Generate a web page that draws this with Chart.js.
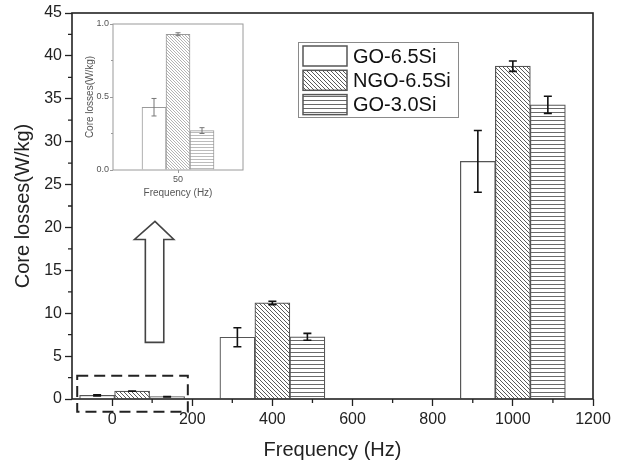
<!DOCTYPE html>
<html><head><meta charset="utf-8">
<script src="https://cdn.jsdelivr.net/npm/chart.js@4.4.1/dist/chart.umd.min.js"></script>
<style>
html,body{margin:0;padding:0;background:#fff;}
#wrap{position:relative;width:622px;height:464px;overflow:hidden;}
#main{position:absolute;left:0;top:0;}
#inset{position:absolute;left:75px;top:15px;}
</style></head><body>
<div id="wrap"><canvas id="main" width="622" height="464"></canvas><canvas id="inset" width="175" height="195"></canvas></div>
<script>
// ---- data ----
const frequencies = [50, 400, 1000];
const seriesNames = ['GO-6.5Si', 'NGO-6.5Si', 'GO-3.0Si'];
const go65 = [0.43, 7.2, 27.7];
const go65Err = [0.06, 1.1, 3.6];
const ngo65 = [0.93, 11.2, 38.8];
const ngo65Err = [0.01, 0.2, 0.6];
const go30 = [0.27, 7.25, 34.3];
const go30Err = [0.02, 0.4, 1.0];
const xTicks = [0, 200, 400, 600, 800, 1000, 1200];
const yTicks = [0, 5, 10, 15, 20, 25, 30, 35, 40, 45];
const insetYTicks = [0, 0.5, 1.0];
const insetYTickLabels = ['0.0', '0.5', '1.0'];
const xTitle = 'Frequency (Hz)';
const yTitle = 'Core losses(W/kg)';

const FONT = '"Liberation Sans", Arial, Helvetica, sans-serif';
Chart.defaults.font.family = FONT;

const vals = [go65, ngo65, go30];
const errs = [go65Err, ngo65Err, go30Err];

function pattern(ctx, kind, color, size, lw) {
  const c = document.createElement('canvas');
  c.width = size; c.height = size;
  const g = c.getContext('2d');
  g.fillStyle = '#fff'; g.fillRect(0, 0, size, size);
  g.strokeStyle = color; g.lineWidth = lw;
  g.beginPath();
  if (kind === 'diag') {
    g.moveTo(-1, -1); g.lineTo(size + 1, size + 1);
    g.moveTo(-1, size - 1); g.lineTo(1, size + 1);
    g.moveTo(size - 1, -1); g.lineTo(size + 1, 1);
  } else {
    g.moveTo(0, 0.5); g.lineTo(size, 0.5);
  }
  g.stroke();
  return ctx.createPattern(c, 'repeat');
}

function midpoints(arr) {
  const out = [];
  for (let i = 0; i < arr.length - 1; i++) out.push((arr[i] + arr[i + 1]) / 2);
  return out;
}

const errorBars = {
  id: 'errorBars',
  afterDatasetsDraw(chart, args, opts) {
    const ctx = chart.ctx, ys = chart.scales.y;
    ctx.save();
    ctx.strokeStyle = opts.color; ctx.lineWidth = opts.width;
    chart.data.datasets.forEach((ds, k) => {
      const meta = chart.getDatasetMeta(k);
      meta.data.forEach((bar, i) => {
        const d = ds.data[i];
        const v = (typeof d === 'object') ? d.y : d;
        const e = ds.errors[i];
        const t = ys.getPixelForValue(v + e), b = ys.getPixelForValue(v - e);
        const x = bar.x, c = opts.cap;
        ctx.beginPath();
        ctx.moveTo(x, t); ctx.lineTo(x, b);
        ctx.moveTo(x - c, t); ctx.lineTo(x + c, t);
        ctx.moveTo(x - c, b); ctx.lineTo(x + c, b);
        ctx.stroke();
      });
    });
    ctx.restore();
  }
};

const frame = {
  id: 'frame',
  afterDraw(chart, args, opts) {
    const ctx = chart.ctx, a = chart.chartArea;
    const xs = chart.scales.x, ys = chart.scales.y;
    ctx.save();
    ctx.strokeStyle = opts.color; ctx.lineWidth = opts.width;
    ctx.strokeRect(a.left, a.top, a.right - a.left, a.bottom - a.top);
    ctx.lineWidth = opts.tickWidth;
    ctx.beginPath();
    (opts.xMinor || []).forEach(v => {
      const px = xs.getPixelForValue(v);
      ctx.moveTo(px, a.bottom); ctx.lineTo(px, a.bottom + opts.minorLen);
    });
    (opts.yMinor || []).forEach(v => {
      const py = ys.getPixelForValue(v);
      ctx.moveTo(a.left, py); ctx.lineTo(a.left - opts.minorLen, py);
    });
    ctx.stroke();
    ctx.restore();
  }
};

const decorations = {
  id: 'decorations',
  afterDraw(chart, args, opts) {
    const ctx = chart.ctx, xs = chart.scales.x, ys = chart.scales.y;
    ctx.save();
    const r = opts.box;
    const x1 = xs.getPixelForValue(r.x0), x2 = xs.getPixelForValue(r.x1);
    const y1 = ys.getPixelForValue(r.y1), y2 = ys.getPixelForValue(r.y0);
    ctx.setLineDash([11, 6]);
    ctx.lineWidth = 2; ctx.strokeStyle = '#222';
    ctx.strokeRect(x1, y1, x2 - x1, y2 - y1);
    ctx.setLineDash([]);
    const A = opts.arrow;
    const P = (x, y) => [xs.getPixelForValue(x), ys.getPixelForValue(y)];
    const pts = [
      P(A.tipX, A.tipY), P(A.headR, A.headY), P(A.shaftR, A.headY), P(A.shaftR, A.bottom),
      P(A.shaftL, A.bottom), P(A.shaftL, A.headY), P(A.headL, A.headY)
    ];
    ctx.beginPath();
    pts.forEach((p, i) => i ? ctx.lineTo(p[0], p[1]) : ctx.moveTo(p[0], p[1]));
    ctx.closePath();
    ctx.lineWidth = 1.6; ctx.strokeStyle = '#444'; ctx.lineJoin = 'miter';
    ctx.stroke();
    const L = opts.legend;
    ctx.lineWidth = 1; ctx.strokeStyle = '#8a8a8a';
    ctx.strokeRect(L.x + 0.5, L.y + 0.5, L.w, L.h);
    ctx.font = '20px ' + FONT; ctx.textBaseline = 'middle';
    chart.data.datasets.forEach((ds, k) => {
      const sy = L.y + L.rowTop + k * L.rowStep;
      ctx.fillStyle = ds.backgroundColor;
      ctx.fillRect(L.x + L.swX, sy, L.swW, L.swH);
      ctx.lineWidth = 1.5; ctx.strokeStyle = '#555';
      ctx.strokeRect(L.x + L.swX, sy, L.swW, L.swH);
      ctx.fillStyle = '#111';
      ctx.fillText(ds.label, L.x + L.textX, sy + L.swH / 2 + 1);
    });
    ctx.restore();
  }
};

// ---- main chart ----
const mainCtx = document.getElementById('main').getContext('2d');
const mainFills = ['#ffffff', pattern(mainCtx, 'diag', '#5a5a5a', 4, 1), pattern(mainCtx, 'horiz', '#6a6a6a', 4, 1)];

new Chart(mainCtx, {
  type: 'bar',
  data: {
    datasets: seriesNames.map((name, k) => ({
      label: name,
      data: frequencies.map((f, i) => ({ x: f, y: vals[k][i] })),
      errors: errs[k],
      backgroundColor: mainFills[k],
      borderColor: '#555',
      borderWidth: 1.2,
      barThickness: 35
    }))
  },
  options: {
    responsive: false, animation: false, devicePixelRatio: 1,
    layout: { padding: { top: 13, right: 29, left: 0, bottom: 0 } },
    plugins: {
      legend: { display: false }, tooltip: { enabled: false },
      errorBars: { color: '#111', width: 1.6, cap: 4 },
      frame: { color: '#222', width: 1.6, tickWidth: 1.3, minorLen: 4, xMinor: midpoints(xTicks), yMinor: midpoints(yTicks) },
      decorations: {
        box: { x0: -87, x1: 189, y0: -1.5, y1: 2.7 },
        arrow: { tipX: 107, tipY: 20.7, headY: 18.6, headL: 56, headR: 154, shaftL: 83, shaftR: 129, bottom: 6.6 },
        legend: { x: 298, y: 42, w: 160, h: 75, swX: 5, swW: 44, swH: 20, rowTop: 4, rowStep: 24.3, textX: 55 }
      }
    },
    scales: {
      x: {
        type: 'linear', min: -100, max: 1200, offset: false,
        afterBuildTicks(s) { s.ticks = xTicks.map(v => ({ value: v })); },
        afterFit(s) { s.height = 65; },
        grid: { display: true, drawOnChartArea: false, offset: false, tickLength: 7, tickWidth: 1.3, tickColor: '#222' },
        border: { display: false },
        ticks: { autoSkip: false, maxRotation: 0, color: '#222', font: { size: 16 }, padding: 4, callback: v => String(v) },
        title: { display: true, text: xTitle, color: '#222', font: { size: 20 }, padding: { top: 0, bottom: 2 } }
      },
      y: {
        min: 0, max: 45,
        afterBuildTicks(s) { s.ticks = yTicks.map(v => ({ value: v })); },
        afterFit(s) { s.width = 72; },
        grid: { display: true, drawOnChartArea: false, tickLength: 7, tickWidth: 1.3, tickColor: '#222' },
        border: { display: false },
        ticks: { color: '#222', font: { size: 16 }, padding: 3, callback: v => String(v) },
        title: { display: true, text: yTitle, color: '#222', font: { size: 20 }, padding: { top: 11, bottom: 0 } }
      }
    }
  },
  plugins: [errorBars, frame, decorations]
});

// ---- inset chart ----
const insetCtx = document.getElementById('inset').getContext('2d');
const insetFills = ['#ffffff', pattern(insetCtx, 'diag', '#a0a0a0', 3, 0.8), pattern(insetCtx, 'horiz', '#ababab', 3, 0.8)];

new Chart(insetCtx, {
  type: 'bar',
  data: {
    labels: [String(frequencies[0])],
    datasets: seriesNames.map((name, k) => ({
      label: name,
      data: [vals[k][0]],
      errors: [errs[k][0]],
      backgroundColor: insetFills[k],
      borderColor: '#9a9a9a',
      borderWidth: 1,
      barThickness: 24
    }))
  },
  options: {
    responsive: false, animation: false, devicePixelRatio: 1,
    layout: { padding: { top: 9, right: 7, left: 0, bottom: 0 } },
    plugins: {
      legend: { display: false }, tooltip: { enabled: false },
      errorBars: { color: '#777', width: 1, cap: 2.5 },
      frame: { color: '#9a9a9a', width: 1, tickWidth: 1, minorLen: 2, xMinor: [], yMinor: midpoints(insetYTicks) }
    },
    scales: {
      x: {
        type: 'category',
        afterFit(s) { s.height = 40; },
        grid: { display: true, drawOnChartArea: false, offset: false, tickLength: 3, tickColor: '#9a9a9a' },
        border: { display: false },
        ticks: { color: '#555', font: { size: 9 }, padding: 1 },
        title: { display: true, text: xTitle, color: '#555', font: { size: 10 }, padding: { top: 0, bottom: 11 } }
      },
      y: {
        min: 0, max: 1,
        afterBuildTicks(s) { s.ticks = insetYTicks.map(v => ({ value: v })); },
        afterFit(s) { s.width = 38; },
        grid: { display: true, drawOnChartArea: false, tickLength: 3, tickColor: '#9a9a9a' },
        border: { display: false },
        ticks: { color: '#555', font: { size: 9 }, padding: 1, callback: (v, i) => insetYTickLabels[i] },
        title: { display: true, text: yTitle, color: '#555', font: { size: 10 }, padding: { top: 9, bottom: 0 } }
      }
    }
  },
  plugins: [errorBars, frame]
});
</script>
</body></html>
